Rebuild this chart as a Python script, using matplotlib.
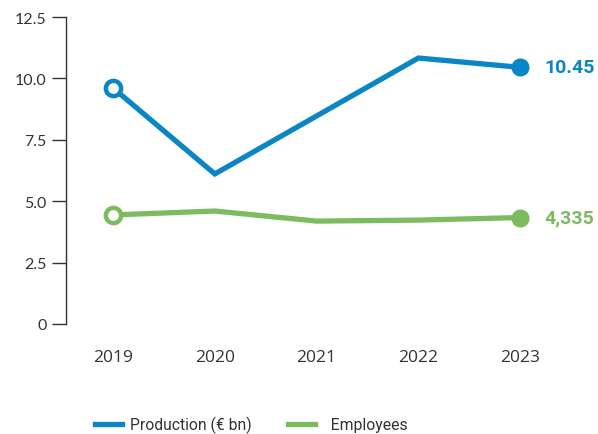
import numpy as np
import matplotlib
matplotlib.use("Agg")
import matplotlib.pyplot as plt
from matplotlib.lines import Line2D

# data
years = [2019, 2020, 2021, 2022, 2023]
production = [9.61, 6.11, 8.47, 10.83, 10.45]      # EUR bn
employees = [4.44, 4.60, 4.19, 4.23, 4.335]        # thousands
prod_label = "10.45"
emp_label = "4,335"
yticks = [0, 2.5, 5.0, 7.5, 10.0, 12.5]
ytick_labels = ["0", "2.5", "5.0", "7.5", "10.0", "12.5"]

blue = "#0a86c6"
green = "#7dbb5f"
grey = "#333333"

fig = plt.figure(figsize=(5.98, 4.35), dpi=100)
ax = fig.add_axes([0.1104, 0.2529, 0.8428, 0.7057])

for vals, col in [(production, blue), (employees, green)]:
    ax.plot(years, vals, color=col, lw=3.8, solid_capstyle="butt",
            solid_joinstyle="miter", zorder=2)
    # hollow marker at the start, filled at the end
    ax.plot(years[0], vals[0], "o", ms=11, mfc="white", mec=col, mew=3.2, zorder=3)
    ax.plot(years[-1], vals[-1], "o", ms=12, mfc=col, mec=col, zorder=3)

ax.text(2023.24, production[-1], prod_label, color=blue, fontsize=14,
        fontweight="bold", family="Roboto", va="center", ha="left")
ax.text(2023.24, employees[-1], emp_label, color=green, fontsize=14,
        fontweight="bold", family="Roboto", va="center", ha="left")

ax.set_xlim(2018.538, 2023.49)
ax.set_ylim(0, 12.5)
ax.set_yticks(yticks)
ax.set_yticklabels(ytick_labels)
ax.set_xticks(years)
ax.set_xticklabels([str(y) for y in years])

for s in ["top", "right", "bottom"]:
    ax.spines[s].set_visible(False)
ax.spines["left"].set_color(grey)
ax.spines["left"].set_linewidth(1.0)
ax.tick_params(axis="y", length=10, width=1.0, color=grey, labelcolor=grey,
               labelsize=11.5, pad=4)
ax.tick_params(axis="x", length=0, labelcolor=grey, labelsize=12.5, pad=18)
for lab in ax.get_yticklabels():
    lab.set_family("Lato")
for lab in ax.get_xticklabels():
    lab.set_family("Open Sans")

handles = [Line2D([], [], color=blue, lw=3.8),
           Line2D([], [], color=green, lw=3.8)]
leg = fig.legend(handles, ["Production (€ bn)", "  Employees"], loc="lower left",
                 bbox_to_anchor=(0.135, -0.03), ncol=2, frameon=False,
                 handlelength=1.75, handletextpad=0.5, columnspacing=2.3,
                 prop={"family": "Roboto", "size": 11.3})
for t in leg.get_texts():
    t.set_color(grey)

fig.savefig("out.png", dpi=100)
